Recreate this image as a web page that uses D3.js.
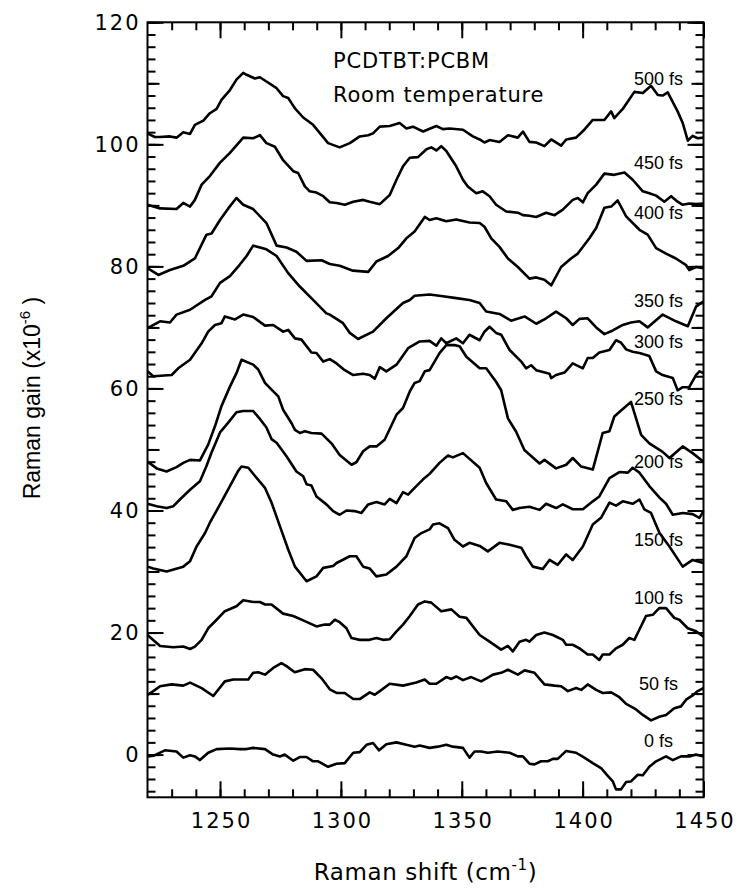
<!DOCTYPE html>
<html><head><meta charset="utf-8">
<script src="https://cdn.jsdelivr.net/npm/d3@7"></script>
<style>html,body{margin:0;padding:0;background:#fff}</style>
</head><body><div id="chart"></div>
<script>
// ---- data: [Raman shift (cm-1), Raman gain (x10^-6)] ----
const fs500 = [[1220,101.8],[1223,101.2],[1225,101.2],[1229.3,101.3],[1232,101.1],[1234.8,102.0],[1237.6,101.7],[1239.6,103.2],[1243.1,103.9],[1245.8,105.1],[1248.6,105.8],[1250.6,107.3],[1254.1,108.9],[1256.8,110.6],[1259.6,111.7],[1261,111.4],[1264.4,110.8],[1266.5,111.0],[1269.2,110.3],[1273.4,109.2],[1276.1,107.9],[1278.2,107.6],[1281,105.9],[1284.4,104.4],[1288.5,103.2],[1292,101.5],[1294.7,100.2],[1299.5,99.5],[1303.7,100.2],[1307.8,101.3],[1311.3,101.5],[1313.3,101.8],[1316.1,102.9],[1320.2,103.0],[1324.3,103.5],[1327.1,102.6],[1329.8,102.9],[1334,102.1],[1339.5,103.0],[1342.2,102.5],[1345,102.6],[1350.5,102.4],[1354.6,101.3],[1357.4,100.8],[1359.4,100.3],[1361.5,100.7],[1365.6,100.4],[1369.1,101.5],[1373.2,101.1],[1375.3,102.1],[1378,100.4],[1380.8,100.3],[1384.2,99.7],[1387,100.8],[1391.1,99.8],[1393.2,100.8],[1397.3,101.1],[1400.7,102.4],[1404.2,104.0],[1409,104.0],[1411.8,105.4],[1413.1,104.3],[1416.6,105.8],[1421.4,108.6],[1424.9,108.4],[1428.3,109.6],[1431.1,108.1],[1433.1,108.0],[1435.2,108.5],[1439.3,105.4],[1441.4,103.5],[1443.5,100.6],[1445.5,101.4],[1447.6,101.0],[1450,101.1]];
const fs450 = [[1220,90.1],[1225.2,89.5],[1232,89.4],[1234.8,90.4],[1237.6,89.8],[1239.6,90.9],[1242.4,93.4],[1245.8,94.8],[1250,97.0],[1254.1,98.6],[1259.6,101.1],[1263.7,101.0],[1266.5,101.5],[1269.2,100.2],[1272.7,99.6],[1276.1,97.4],[1280.3,95.6],[1282.3,95.3],[1285.1,93.1],[1287.1,92.3],[1289.9,92.1],[1292.7,91.5],[1295.4,90.5],[1298.2,90.4],[1301.6,90.1],[1305.1,90.6],[1309.2,90.9],[1311.9,90.6],[1316.1,90.2],[1320.2,91.7],[1323,94.2],[1325.7,96.4],[1328.5,97.8],[1331.9,97.9],[1335.4,99.2],[1337.4,99.5],[1339.5,99.0],[1341.5,99.7],[1343.6,98.9],[1347.7,96.4],[1350.5,94.2],[1352.5,93.1],[1356,92.0],[1358.7,92.3],[1361.5,91.5],[1364.2,90.1],[1368.4,89.0],[1373.2,88.8],[1375.3,88.4],[1378,88.3],[1380.8,88.1],[1384.9,88.8],[1388.4,88.4],[1391.8,89.3],[1395.9,90.9],[1398,91.2],[1400.1,90.5],[1402.1,92.0],[1405.6,93.4],[1409,95.2],[1413.1,95.0],[1417.3,95.4],[1420.7,94.2],[1424.9,92.3],[1427.6,92.0],[1430.4,91.6],[1433.8,90.6],[1436.6,91.5],[1439.3,90.6],[1441.4,90.1],[1444.1,90.3],[1446.9,90.2],[1450,90.3]];
const fs400 = [[1220,79.7],[1224.5,78.6],[1229.3,79.4],[1234.8,80.1],[1239.6,81.3],[1244.4,85.2],[1246.5,85.4],[1250,87.6],[1253.4,89.5],[1256.8,91.2],[1259.6,90.1],[1263.7,89.4],[1269.2,87.1],[1273.4,83.4],[1277.5,83.1],[1281.6,82.4],[1285.8,80.9],[1292,81.0],[1295.4,80.4],[1299.5,80.1],[1305,79.3],[1311.3,79.1],[1314.7,80.8],[1319.5,81.7],[1323.7,83.0],[1327.1,84.6],[1330.5,85.7],[1334.7,88.1],[1336.7,87.6],[1339.5,87.9],[1343.6,87.4],[1347.7,87.7],[1353.2,87.2],[1357.4,87.1],[1359.4,86.5],[1362.2,84.6],[1365.6,83.2],[1369.1,81.3],[1373.2,79.9],[1378,78.0],[1380.8,78.2],[1384.2,77.8],[1387,76.9],[1391.1,79.9],[1395.2,81.3],[1398,82.1],[1402.8,84.6],[1405.6,86.3],[1409,89.6],[1411.8,89.8],[1414.5,90.8],[1418,88.2],[1423.5,86.0],[1426.9,85.2],[1430.4,83.0],[1434.5,82.1],[1438.6,81.3],[1442.8,80.2],[1444.1,79.4],[1446.9,79.9],[1450,79.7]];
const fs350 = [[1220,69.9],[1225.2,71.0],[1229.3,70.8],[1232,72.1],[1237.6,72.9],[1243.8,74.5],[1246.5,75.1],[1250,77.3],[1254.1,78.4],[1258.2,80.3],[1261,81.7],[1263.7,83.4],[1269.2,82.8],[1273.4,81.7],[1278.2,78.9],[1283,76.7],[1288.5,74.5],[1294,72.3],[1295.4,72.1],[1300.9,70.7],[1303.7,69.1],[1307.1,68.1],[1313.3,69.3],[1318.8,71.5],[1325.7,74.0],[1328.5,74.5],[1330.5,75.2],[1336.7,75.4],[1342.2,75.1],[1347.7,74.8],[1353.2,74.5],[1357.4,74.0],[1360.1,72.6],[1365.6,72.2],[1370.4,71.1],[1376,71.8],[1380.8,70.6],[1384.9,71.5],[1389,72.6],[1393.2,71.5],[1395.9,70.4],[1398.7,71.4],[1402.1,71.5],[1405.6,70.0],[1409,68.9],[1412.5,69.5],[1416.6,70.4],[1420,70.8],[1423.5,71.0],[1426.9,70.0],[1433.1,72.1],[1438.6,71.0],[1443.5,70.2],[1446.9,73.4],[1450,74.3]];
const fs300 = [[1220,62.8],[1222.4,62.0],[1230,62.2],[1232.7,63.3],[1237.6,64.7],[1242.4,67.4],[1245.1,69.3],[1247.9,70.4],[1250.6,70.7],[1252,71.8],[1256.2,71.3],[1259.6,72.1],[1263.7,71.7],[1268.6,70.3],[1272,70.4],[1276.1,69.3],[1278.2,69.6],[1281,68.2],[1283.7,68.0],[1287.8,65.9],[1289.9,65.8],[1292.7,64.4],[1295.4,64.8],[1298.2,64.1],[1301.6,63.0],[1305.1,62.2],[1309.2,62.4],[1311.9,62.2],[1314,61.6],[1316.1,63.5],[1318.8,62.8],[1323,63.9],[1327.8,66.6],[1332.6,67.7],[1336.7,67.8],[1339.5,67.0],[1341.5,68.2],[1343.6,67.4],[1347.7,68.2],[1350.5,67.4],[1353.2,68.8],[1357.4,67.9],[1359.4,69.3],[1361.5,70.1],[1364.2,69.1],[1366.3,68.8],[1369.8,66.3],[1374.6,64.4],[1376.6,63.3],[1378.7,63.8],[1380.8,63.0],[1386.3,62.4],[1387,61.7],[1389,62.2],[1392.5,62.6],[1395.9,64.1],[1400.1,63.3],[1402.1,65.0],[1404.2,65.0],[1406.9,65.9],[1411.1,66.3],[1413.8,67.9],[1415.9,67.5],[1418,66.4],[1420.7,66.0],[1423.5,65.8],[1427.6,65.3],[1430.4,62.8],[1433.1,62.2],[1437.3,61.7],[1439.3,59.7],[1441.4,60.2],[1444.1,60.2],[1446.9,62.2],[1448.3,62.8],[1450,62.5]];
const fs250 = [[1220,48.0],[1223.8,46.9],[1227.9,46.4],[1232,47.1],[1234.8,47.8],[1237.6,48.3],[1241.7,48.2],[1245.1,50.8],[1247.9,53.8],[1250.6,57.1],[1254.1,60.3],[1256.8,62.5],[1258.9,64.7],[1263.7,63.9],[1265.8,63.1],[1268.6,60.9],[1271.3,59.8],[1274.1,58.7],[1276.1,56.5],[1279.6,54.3],[1281,53.2],[1283,52.7],[1285.1,53.0],[1287.8,52.7],[1292,52.6],[1296.1,51.0],[1299.5,49.1],[1304.4,47.5],[1306.4,47.9],[1309.2,49.7],[1311.9,50.5],[1314.7,50.5],[1318.1,51.6],[1323,55.7],[1325.7,56.8],[1328.5,59.5],[1330.5,60.9],[1332.6,61.2],[1334.7,62.8],[1336.7,63.0],[1340.8,65.8],[1343.6,67.1],[1347,67.1],[1349.1,66.9],[1351.9,65.2],[1357.4,63.3],[1360.1,63.3],[1364.2,61.1],[1366.3,59.7],[1369.1,55.1],[1372.5,52.9],[1375.9,49.9],[1382.2,47.7],[1384.2,48.3],[1389,46.9],[1393.2,47.5],[1395.9,48.6],[1399.4,47.2],[1404.2,46.7],[1408.3,52.7],[1411.1,53.0],[1413.1,55.4],[1416.5,56.6],[1420,57.8],[1424.2,52.4],[1427.6,51.0],[1433.1,49.6],[1435.9,48.6],[1441.4,50.5],[1445.5,49.4],[1450,48.0]];
const fs200 = [[1220,41.1],[1223.8,40.7],[1227.9,40.4],[1230.7,40.7],[1233.4,41.8],[1237.6,43.4],[1241.7,44.8],[1244.4,47.3],[1246.5,49.5],[1250,52.8],[1253.4,54.4],[1256.8,56.1],[1259.6,56.3],[1263.7,56.3],[1266.5,55.0],[1269.2,53.6],[1271.3,51.7],[1273.4,51.1],[1277.5,48.9],[1281.6,46.4],[1284.4,45.6],[1285.8,44.3],[1287.8,44.1],[1289.9,42.3],[1294,41.0],[1296.8,39.9],[1299.5,39.3],[1302.3,40.0],[1305.7,39.9],[1308.5,39.6],[1311.3,41.0],[1314.7,41.4],[1318.1,41.0],[1320.2,41.9],[1323,41.2],[1325.7,43.0],[1327.8,42.6],[1331.2,44.0],[1334,45.1],[1336.7,46.0],[1340.8,47.8],[1344.3,49.0],[1346.3,48.7],[1350.5,49.4],[1357.4,47.0],[1360.1,44.5],[1364.2,41.8],[1368.4,41.5],[1371.1,40.1],[1373.9,40.4],[1378,40.6],[1382.2,40.1],[1384.9,41.1],[1389,40.4],[1391.8,41.0],[1395.9,40.2],[1400.1,40.2],[1404.2,41.5],[1406.9,42.3],[1411.1,45.3],[1415.2,46.3],[1418.7,46.2],[1420.7,47.0],[1423.5,46.2],[1427.6,44.0],[1431.8,42.1],[1434.5,41.1],[1437.3,39.3],[1441.4,39.6],[1445.5,39.4],[1448.3,38.8],[1450,39.9]];
const fs150 = [[1220,30.8],[1222.4,30.5],[1227.9,30.0],[1234.8,30.8],[1237.6,31.7],[1240.3,34.1],[1243.8,36.3],[1245.8,38.0],[1250,41.0],[1254.1,44.0],[1257.5,46.5],[1258.9,47.2],[1261.7,47.0],[1264.4,45.7],[1268.6,43.7],[1271.3,41.3],[1274.8,37.4],[1278.2,33.6],[1281,30.8],[1285.8,28.4],[1289.9,29.2],[1292.7,30.6],[1296.8,30.9],[1298.2,31.4],[1303.7,32.5],[1306.4,32.5],[1309.2,30.8],[1311.9,30.5],[1314.7,29.2],[1318.8,29.5],[1323,30.8],[1327.1,32.5],[1330.5,35.5],[1333.3,36.3],[1336.7,36.9],[1338.1,37.7],[1340.8,37.9],[1344.3,37.1],[1347,35.2],[1350.5,34.1],[1353.2,34.7],[1357.4,34.2],[1360.8,33.3],[1365.6,34.7],[1369.8,34.4],[1374.6,33.9],[1376.6,32.5],[1379.4,30.8],[1383.5,30.4],[1386.3,31.9],[1389.7,31.1],[1393.2,32.8],[1395.9,31.9],[1400.1,34.1],[1404.2,37.7],[1407.6,38.8],[1411.1,41.3],[1413.8,40.8],[1416.6,41.5],[1420.7,41.1],[1423.5,41.8],[1425.5,40.2],[1428.3,39.6],[1431.8,36.3],[1435.9,34.1],[1441.4,30.8],[1445.5,31.9],[1450,31.4]];
const fs100 = [[1220,19.6],[1225.2,17.8],[1230.7,17.6],[1234.8,17.7],[1237.6,17.3],[1239.6,17.7],[1242.4,18.8],[1245.1,20.7],[1248.6,22.1],[1252,23.5],[1256.8,24.3],[1259.6,25.3],[1263.7,25.0],[1266.5,25.0],[1268.6,24.6],[1271.3,24.6],[1276.1,23.1],[1280.3,22.7],[1284.4,22.0],[1289.9,21.0],[1293.3,21.3],[1295.4,21.3],[1297.5,22.1],[1299.5,21.7],[1302.3,20.7],[1304.4,19.1],[1307.8,18.8],[1311.9,18.8],[1314.7,19.1],[1317.4,18.8],[1320.2,18.9],[1323,20.2],[1325.7,21.3],[1328.5,22.7],[1331.9,24.6],[1334.7,25.1],[1337.4,24.9],[1341.5,23.5],[1345.7,23.8],[1349.1,22.6],[1351.9,22.4],[1357.4,19.6],[1361.5,18.5],[1366.3,17.2],[1369.1,17.8],[1371.1,16.9],[1373.9,18.5],[1376.6,18.8],[1378,18.5],[1380.8,19.6],[1384.2,20.0],[1387.7,19.6],[1391.8,18.8],[1393.2,18.0],[1395.9,18.0],[1398.7,17.4],[1402.1,16.4],[1404.2,16.4],[1406.9,15.5],[1408.3,16.4],[1411.1,16.4],[1413.8,17.4],[1416.6,18.0],[1419.3,19.1],[1421.4,18.8],[1423.5,20.5],[1426.2,22.7],[1429,22.9],[1431.7,24.0],[1434.5,24.0],[1437.9,22.4],[1440,22.1],[1443.5,20.7],[1446.9,20.2],[1450,19.3]];
const fs50 = [[1220,9.8],[1222.4,10.4],[1225.2,11.2],[1230,11.5],[1234.8,11.3],[1237.6,11.8],[1242.4,10.9],[1247.2,9.6],[1252,12.0],[1255.5,12.3],[1261.7,12.3],[1263.7,13.4],[1265.8,13.5],[1268.6,13.1],[1272,14.2],[1275.4,15.0],[1277.5,14.5],[1280.9,13.5],[1285.1,14.0],[1288.5,13.9],[1292,12.5],[1295.4,10.7],[1298.2,10.1],[1301.6,10.1],[1305.1,9.1],[1307.8,9.1],[1311.9,10.2],[1314,9.8],[1316.1,10.4],[1320.2,11.6],[1325.7,11.3],[1331.2,11.8],[1334.7,12.3],[1336.7,11.6],[1339.5,11.6],[1343.6,12.7],[1345.7,12.4],[1347.7,12.8],[1350.5,12.2],[1353.9,12.7],[1358,12.0],[1360.8,12.6],[1362.9,13.1],[1366.3,13.4],[1369.1,13.9],[1373.2,13.1],[1376,13.8],[1380.1,13.4],[1384.2,11.5],[1388.4,11.3],[1391.1,11.2],[1393.9,10.4],[1397.3,10.9],[1399.4,10.6],[1402.1,11.5],[1405.6,10.6],[1408.3,10.1],[1411.8,10.2],[1415.2,9.4],[1418,8.3],[1422.1,7.4],[1424.9,6.5],[1428.3,5.6],[1431.7,6.2],[1434.5,6.5],[1437.9,7.6],[1440.7,7.9],[1442.8,9.0],[1445.5,9.7],[1447.6,10.4],[1450,10.9]];
const fs0 = [[1220,-0.3],[1222.4,-0.2],[1227.2,0.7],[1232,0.5],[1234.8,-0.5],[1237.6,-0.1],[1239.6,-0.3],[1241.7,-0.9],[1245.1,0.3],[1248.6,0.9],[1254.1,1.0],[1258.2,0.9],[1261,0.9],[1263.7,1.1],[1268.6,0.9],[1272,0.0],[1274.8,-0.3],[1276.8,0.0],[1280.3,-1.0],[1283,-0.4],[1285.8,-0.4],[1288.5,-1.1],[1290.6,-1.1],[1294.7,-2.0],[1298.2,-1.5],[1301.6,-1.4],[1305.1,0.3],[1307.8,0.4],[1310.6,1.6],[1313.3,1.9],[1315.8,0.7],[1318.8,1.7],[1323,2.0],[1327.1,1.6],[1330.5,1.3],[1332.6,1.5],[1336.7,1.1],[1340.1,1.3],[1343.6,1.6],[1346.3,1.3],[1350.5,1.1],[1353.2,-0.5],[1355.3,0.5],[1358,0.5],[1360.8,0.3],[1364.9,0.5],[1369.8,0.3],[1373.2,-0.3],[1375.3,-0.3],[1378,-1.5],[1380.1,-1.6],[1382.8,-1.1],[1385.6,-1.1],[1387.7,-0.7],[1389.7,-0.7],[1393.2,0.6],[1397.3,0.3],[1400.7,-0.5],[1404.2,-1.4],[1407.6,-2.2],[1410.4,-3.5],[1412.5,-4.4],[1413.8,-5.7],[1415.9,-5.7],[1418,-4.5],[1420,-4.4],[1422.8,-3.3],[1424.9,-3.4],[1427.6,-2.0],[1430.4,-1.1],[1434.5,-0.3],[1437.3,-0.9],[1440.7,-0.3],[1444.1,-0.3],[1446.9,0.0],[1450,-0.3]];

const seriesLabels = ["500 fs","450 fs","400 fs","350 fs","300 fs","250 fs","200 fs","150 fs","100 fs","50 fs","0 fs"];
const seriesData = [fs500, fs450, fs400, fs350, fs300, fs250, fs200, fs150, fs100, fs50, fs0];
const xTickLabels = [1250, 1300, 1350, 1400, 1450];
const yTickLabels = [0, 20, 40, 60, 80, 100, 120];
const titleLines = ["PCDTBT:PCBM", "Room temperature"];

// label anchor positions (data coords) - layout only
const labelAnchorX = 1431.4;
const labelAnchorY = [109.7, 96.0, 87.8, 73.4, 66.7, 57.3, 47.0, 34.1, 24.6, 10.6, 1.3];

// ---- layout ----
const W = 738, H = 890;
const X0 = 147.5, X1 = 703.5, Y0 = 797.3, Y1 = 22.3;
const svg = d3.select("#chart").append("svg").attr("width", W).attr("height", H)
  .style("display","block");

const x = d3.scaleLinear().domain([1220, 1450]).range([X0, X1]);
const y = d3.scaleLinear().domain([-7, 120]).range([Y0, Y1]);

const tickFont = "'DejaVu Sans', sans-serif";

function styleAxis(g) {
  g.select(".domain").remove();
  g.selectAll(".tick line").attr("stroke", "#000").attr("stroke-width", 2);
  g.attr("font-family", tickFont).attr("font-size", 21);
  g.selectAll(".tick text").attr("fill", "#000").attr("letter-spacing", "2px");
}

const xMinor = d3.range(1230, 1450, 10);
const xMajor = xTickLabels;
const yMinor = d3.range(-6, 121, 2);
const yMed = d3.range(0, 121, 10);

// bottom
svg.append("g").attr("transform", `translate(0,${Y0})`)
  .call(d3.axisBottom(x).tickValues(xMinor).tickSize(-8).tickFormat("")).call(styleAxis);
svg.append("g").attr("transform", `translate(0,${Y0})`)
  .call(d3.axisBottom(x).tickValues(xMajor).tickSize(-16).tickPadding(16).tickFormat(d3.format("d")))
  .call(styleAxis)
  .call(g => g.selectAll(".tick text").attr("dx", "1"));
// top
svg.append("g").attr("transform", `translate(0,${Y1})`)
  .call(d3.axisTop(x).tickValues(xMinor).tickSize(-8).tickFormat("")).call(styleAxis);
svg.append("g").attr("transform", `translate(0,${Y1})`)
  .call(d3.axisTop(x).tickValues(xMajor).tickSize(-16).tickFormat("")).call(styleAxis);
// left
svg.append("g").attr("transform", `translate(${X0},0)`)
  .call(d3.axisLeft(y).tickValues(yMinor).tickSize(-8).tickFormat("")).call(styleAxis);
svg.append("g").attr("transform", `translate(${X0},0)`)
  .call(d3.axisLeft(y).tickValues(yMed).tickSize(-12).tickFormat("")).call(styleAxis);
svg.append("g").attr("transform", `translate(${X0},0)`)
  .call(d3.axisLeft(y).tickValues(yTickLabels).tickSize(-16).tickPadding(7).tickFormat(d3.format("d")))
  .call(styleAxis);
// right
svg.append("g").attr("transform", `translate(${X1},0)`)
  .call(d3.axisRight(y).tickValues(yMinor).tickSize(-8).tickFormat("")).call(styleAxis);
svg.append("g").attr("transform", `translate(${X1},0)`)
  .call(d3.axisRight(y).tickValues(yMed).tickSize(-12).tickFormat("")).call(styleAxis);
svg.append("g").attr("transform", `translate(${X1},0)`)
  .call(d3.axisRight(y).tickValues(yTickLabels).tickSize(-16).tickFormat("")).call(styleAxis);

// frame
svg.append("rect").attr("x", X0).attr("y", Y1).attr("width", X1 - X0).attr("height", Y0 - Y1)
  .attr("fill", "none").attr("stroke", "#000").attr("stroke-width", 2);

// curves
const line = d3.line().x(d => x(d[0])).y(d => y(d[1]));
svg.append("g").selectAll("path").data(seriesData).join("path")
  .attr("d", line).attr("fill", "none").attr("stroke", "#000")
  .attr("stroke-width", 2.6).attr("stroke-linejoin", "round");

// series labels
svg.append("g").selectAll("text").data(seriesLabels).join("text")
  .attr("x", x(labelAnchorX)).attr("y", (d, i) => y(labelAnchorY[i]))
  .attr("text-anchor", "middle")
  .attr("font-family", "'Liberation Sans', Arial, sans-serif").attr("font-size", 18)
  .attr("fill", "#000").text(d => d);

// annotation
svg.append("g").selectAll("text").data(titleLines).join("text")
  .attr("x", 333).attr("y", (d, i) => 68 + i * 34)
  .attr("font-family", tickFont).attr("font-size", 21).attr("letter-spacing", "0.8px")
  .attr("fill", "#000").text(d => d);

// x title
const xt = svg.append("text").attr("x", (X0 + X1) / 2).attr("y", 880)
  .attr("text-anchor", "middle").attr("font-family", tickFont).attr("font-size", 23)
  .attr("letter-spacing", "0.6px").attr("fill", "#000");
xt.append("tspan").text("Raman shift (cm");
xt.append("tspan").attr("font-size", 15).attr("dy", -10).text("-1");
xt.append("tspan").attr("dy", 10).text(")");

// y title
const yt = svg.append("text").attr("transform", "translate(40,398) rotate(-90)")
  .attr("text-anchor", "middle").attr("font-family", "'Liberation Sans', Arial, sans-serif")
  .attr("font-size", 23).attr("fill", "#000");
yt.append("tspan").text("Raman gain (x10");
yt.append("tspan").attr("font-size", 15).attr("dy", -10).text("-6");
yt.append("tspan").attr("dy", 10).text(" )");
</script>
</body></html>
